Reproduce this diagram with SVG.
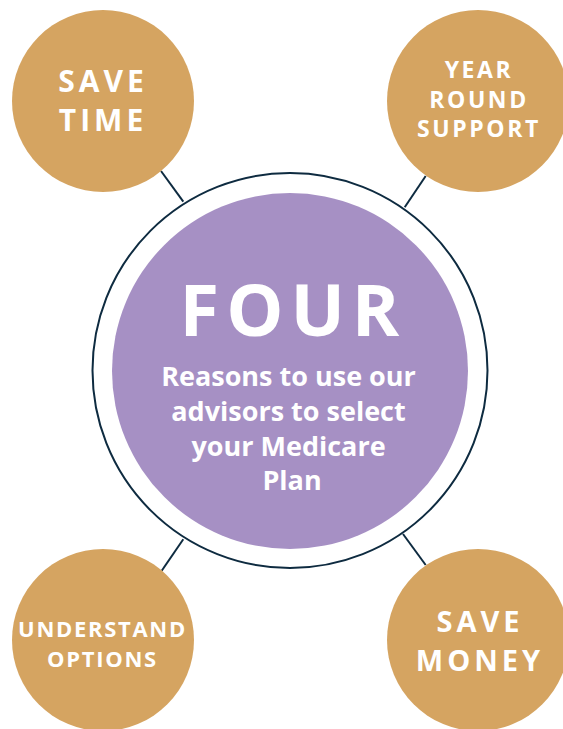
<svg xmlns="http://www.w3.org/2000/svg" width="563" height="729" viewBox="0 0 563 729">
<style>
.gold{fill:#D5A461}
.lbl{font-family:"Open Sans","Liberation Sans",sans-serif;font-weight:700;fill:#FFFFFF;text-anchor:middle}
.conn{stroke:#0E2B40;stroke-width:2;fill:none}
</style>
<rect width="563" height="729" fill="#FFFFFF"/>
<g id="connectors">
<line class="conn" x1="161" y1="171" x2="183.3" y2="201.7"/>
<line class="conn" x1="425.7" y1="176" x2="404.7" y2="207.3"/>
<line class="conn" x1="183.3" y1="539.3" x2="161.7" y2="570.7"/>
<line class="conn" x1="403" y1="534" x2="425.7" y2="565"/>
</g>
<g id="center">
<circle cx="290" cy="370.5" r="197.5" fill="#FFFFFF" stroke="#0E2B40" stroke-width="2"/>
<circle cx="290" cy="371" r="178" fill="#A690C4"/>
<text class="lbl" x="293" y="336" font-size="72" letter-spacing="7">FOUR</text>
<text class="lbl" font-size="27" font-weight="600">
<tspan x="292" y="386">Reasons to use our</tspan>
<tspan x="292" y="420.7">advisors to select</tspan>
<tspan x="292" y="456">your Medicare</tspan>
<tspan x="292" y="490">Plan</tspan>
</text>
</g>
<g id="save-time">
<circle class="gold" cx="103" cy="101" r="91"/>
<text class="lbl" font-size="30" letter-spacing="4"><tspan x="103" y="92.3">SAVE</tspan><tspan x="103" y="130.7">TIME</tspan></text>
</g>
<g id="year-round-support">
<circle class="gold" cx="478" cy="101" r="91"/>
<text class="lbl" font-size="23" letter-spacing="2.6"><tspan x="479" y="78.3">YEAR</tspan><tspan x="479" y="107.7">ROUND</tspan><tspan x="479" y="136.7">SUPPORT</tspan></text>
</g>
<g id="understand-options">
<circle class="gold" cx="103" cy="640" r="91"/>
<text class="lbl" font-size="22" letter-spacing="1.7"><tspan x="102.5" y="637.3">UNDERSTAND</tspan><tspan x="102.5" y="667.3">OPTIONS</tspan></text>
</g>
<g id="save-money">
<circle class="gold" cx="478" cy="640" r="91"/>
<text class="lbl" font-size="29" letter-spacing="4"><tspan x="480" y="632.3">SAVE</tspan><tspan x="480" y="670.7">MONEY</tspan></text>
</g>
</svg>
